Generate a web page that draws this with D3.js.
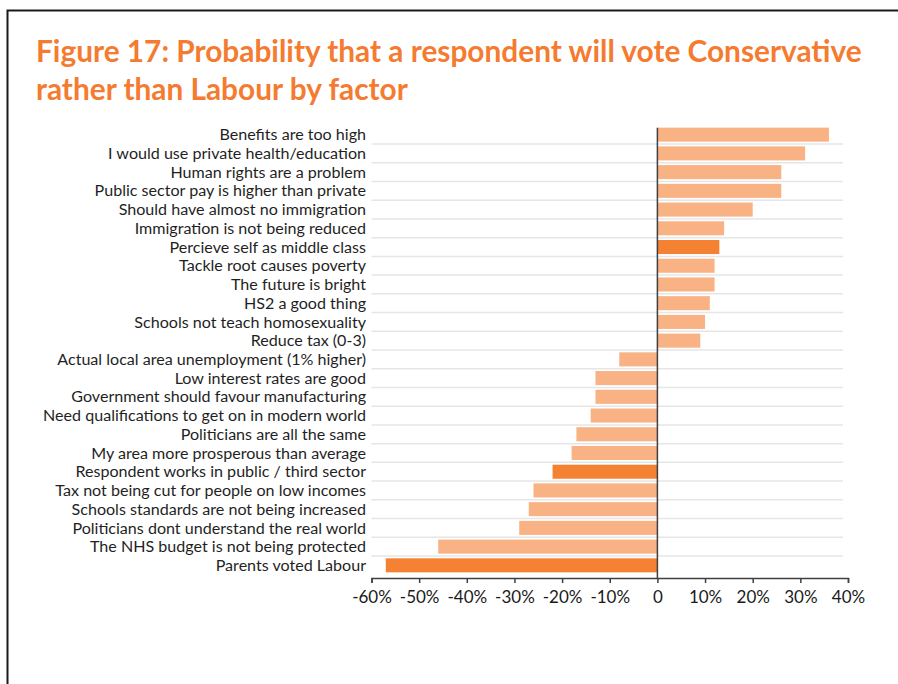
<!DOCTYPE html>
<html>
<head>
<meta charset="utf-8">
<script src="https://cdn.jsdelivr.net/npm/d3@7"></script>
<style>
  html, body { margin: 0; padding: 0; background: #fff; }
  svg { display: block; }
</style>
</head>
<body>
<svg id="chart" width="898" height="684"></svg>
<script>
// Factors, top to bottom
const categories = [
  "Benefits are too high",
  "I would use private health/education",
  "Human rights are a problem",
  "Public sector pay is higher than private",
  "Should have almost no immigration",
  "Immigration is not being reduced",
  "Percieve self as middle class",
  "Tackle root causes poverty",
  "The future is bright",
  "HS2 a good thing",
  "Schools not teach homosexuality",
  "Reduce tax (0-3)",
  "Actual local area unemployment (1% higher)",
  "Low interest rates are good",
  "Government should favour manufacturing",
  "Need qualifications to get on in modern world",
  "Politicians are all the same",
  "My area more prosperous than average",
  "Respondent works in public / third sector",
  "Tax not being cut for people on low incomes",
  "Schools standards are not being increased",
  "Politicians dont understand the real world",
  "The NHS budget is not being protected",
  "Parents voted Labour"
];

// Change in probability of voting Conservative rather than Labour
const values = [
  0.36, 0.31, 0.26, 0.26, 0.20, 0.14, 0.13, 0.12, 0.12, 0.11, 0.10, 0.09,
  -0.08, -0.13, -0.13, -0.14, -0.17, -0.18, -0.22, -0.26, -0.27, -0.29, -0.46, -0.57
];

// Factors drawn in the stronger shade
const highlighted = [
  "Percieve self as middle class",
  "Respondent works in public / third sector",
  "Parents voted Labour"
];

const tickValues = [-0.6, -0.5, -0.4, -0.3, -0.2, -0.1, 0, 0.1, 0.2, 0.3, 0.4];

const titleLines = [
  "Figure 17: Probability that a respondent will vote Conservative",
  "rather than Labour by factor"
];

const data = categories.map((c, i) => ({ name: c, value: values[i] }));

const svg = d3.select("#chart");
const ORANGE = "#f47b30";
const LIGHT = "#f9b283";
const DARK = "#f58232";
const AXIS = "#404040";

// Frame
svg.append("path")
  .attr("d", "M7.5,684 V10.5 H898")
  .attr("fill", "none")
  .attr("stroke", "#1a1a1a")
  .attr("stroke-width", 2);

// Title: fit the first line to its width, share the size with the second
const titleFont = "Lato, 'Open Sans', sans-serif";
const title = svg.append("g");
const t1 = title.append("text")
  .attr("x", 36).attr("y", 62)
  .attr("font-family", titleFont).attr("font-weight", 700)
  .attr("font-size", 28).attr("fill", ORANGE)
  .text(titleLines[0]);
const w1 = t1.node().getComputedTextLength();
const titleSize = 28 * 826 / w1;
t1.attr("font-size", titleSize);
title.append("text")
  .attr("x", 36).attr("y", 99.5)
  .attr("font-family", titleFont).attr("font-weight", 700)
  .attr("font-size", titleSize).attr("fill", ORANGE)
  .text(titleLines[1]);

// Scales
const x = d3.scaleLinear().domain([-0.6, 0.4]).range([371.5, 848]);
const y = d3.scaleBand()
  .domain(categories)
  .range([125.3, 574.7])
  .paddingInner(0.25)
  .paddingOuter(0.125);

const step = y.step();
const axisY = 578;

// Horizontal gridlines between categories
svg.append("g")
  .selectAll("line")
  .data(categories.slice(1))
  .join("line")
  .attr("x1", x(-0.6))
  .attr("x2", x(0.4) - 5)
  .attr("y1", d => y(d) - step * y.paddingInner() / 2)
  .attr("y2", d => y(d) - step * y.paddingInner() / 2)
  .attr("stroke", "#e6e6e6")
  .attr("stroke-width", 1.5);

// Bars
svg.append("g")
  .selectAll("rect")
  .data(data)
  .join("rect")
  .attr("x", d => x(Math.min(0, d.value)))
  .attr("width", d => Math.abs(x(d.value) - x(0)))
  .attr("y", d => y(d.name))
  .attr("height", y.bandwidth())
  .attr("fill", d => highlighted.includes(d.name) ? DARK : LIGHT);

// Zero line
svg.append("line")
  .attr("x1", x(0)).attr("x2", x(0))
  .attr("y1", y(categories[0]))
  .attr("y2", axisY)
  .attr("stroke", AXIS)
  .attr("stroke-width", 1.5);

// Category labels, sized so the longest fills the label column
const labelFont = "Lato, 'Open Sans', sans-serif";
const labels = svg.append("g")
  .attr("font-family", labelFont)
  .attr("fill", "#1f1f1f")
  .attr("text-anchor", "end");
const labelSel = labels.selectAll("text")
  .data(categories)
  .join("text")
  .attr("x", 366)
  .attr("y", d => y(d) + y.bandwidth() / 2)
  .attr("dy", "0.35em")
  .attr("font-size", 15)
  .text(d => d);
let maxW = 0;
labelSel.each(function () { maxW = Math.max(maxW, this.getComputedTextLength()); });
labelSel.attr("font-size", 15 * 323 / maxW);

// X axis
const xAxis = d3.axisBottom(x)
  .tickValues(tickValues)
  .tickSize(5)
  .tickSizeOuter(5)
  .tickFormat(d => d === 0 ? "0" : d3.format(".0%")(d).replace("−", "-"));

const gx = svg.append("g")
  .attr("transform", `translate(0,${axisY})`)
  .call(xAxis);
gx.select(".domain").attr("stroke", AXIS).attr("stroke-width", 1.5);
gx.selectAll(".tick line").attr("stroke", AXIS).attr("stroke-width", 1.5);
gx.selectAll(".tick text")
  .attr("font-family", labelFont)
  .attr("font-size", 17)
  .attr("fill", "#1a1a1a")
  .attr("y", 13)
  .attr("dy", "0.71em");
</script>
</body>
</html>
